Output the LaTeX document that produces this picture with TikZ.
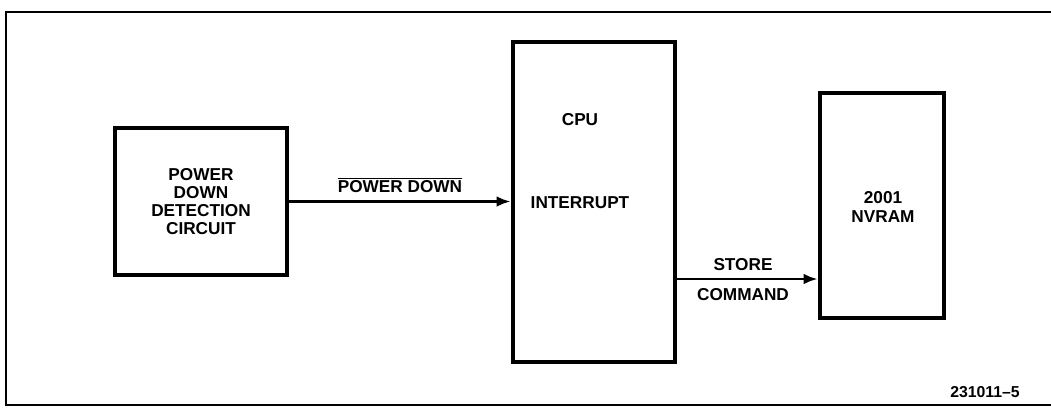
\documentclass[tikz,border=0pt]{standalone}
\usepackage{fontspec}
\setmainfont{Liberation Sans}
\usepackage{tikz}
\usetikzlibrary{arrows.meta}

\begin{document}
\begin{tikzpicture}[
        x=0.02cm, y=-0.02cm,
        block/.style={draw, line width=2.6pt, inner sep=0pt, align=center,
                      font=\fontsize{9.8}{10.4}\selectfont\bfseries},
        signal/.style={->, line width=1.5pt, >={Latex[length=8pt,width=6pt]}},
        lbl/.style={font=\fontsize{9.8}{10.4}\selectfont\bfseries, inner sep=0pt}
    ]
    \useasboundingbox (0,0) rectangle (1051,407);

    % Cadre
    \draw[line width=1.1pt] (1051,12) -- (6,12) -- (6,405) -- (1051,405);

    % Blocs
    \node[block, minimum width=3.44cm, minimum height=2.94cm] (pdd) at (201,201.5)
        {POWER\\DOWN\\DETECTION\\CIRCUIT};
    \node[block, minimum width=3.24cm, minimum height=6.4cm] (cpu) at (594,202) {};
    \node[block, minimum width=2.48cm, minimum height=4.5cm] (nvram) at (882,205.5) {};

    % Textes dans les blocs
    \node[lbl] (cpulbl) at (580,120) {CPU};
    \node[lbl] (intlbl) at (580,203) {INTERRUPT};
    \node[lbl, align=center] (nvlbl) at (883,207) {2001\\NVRAM};

    % Liaisons
    \coordinate (st) at (675,279);
    \draw[signal] (pdd.east) -- (pdd.east -| cpu.west)
        node[lbl, midway, above=4pt] (pdlbl) {$\overline{\hbox{POWER DOWN}}$};
    \draw[signal] (cpu.east |- st) -- (nvram.west |- st);
    \node[lbl] (stlbl) at (743,265) {STORE};
    \node[lbl] (cmdlbl) at (743,295) {COMMAND};

    % Référence
    \node[lbl, font=\fontsize{9}{10}\selectfont\bfseries] (ref) at (985,392) {231011--5};
\end{tikzpicture}
\end{document}
